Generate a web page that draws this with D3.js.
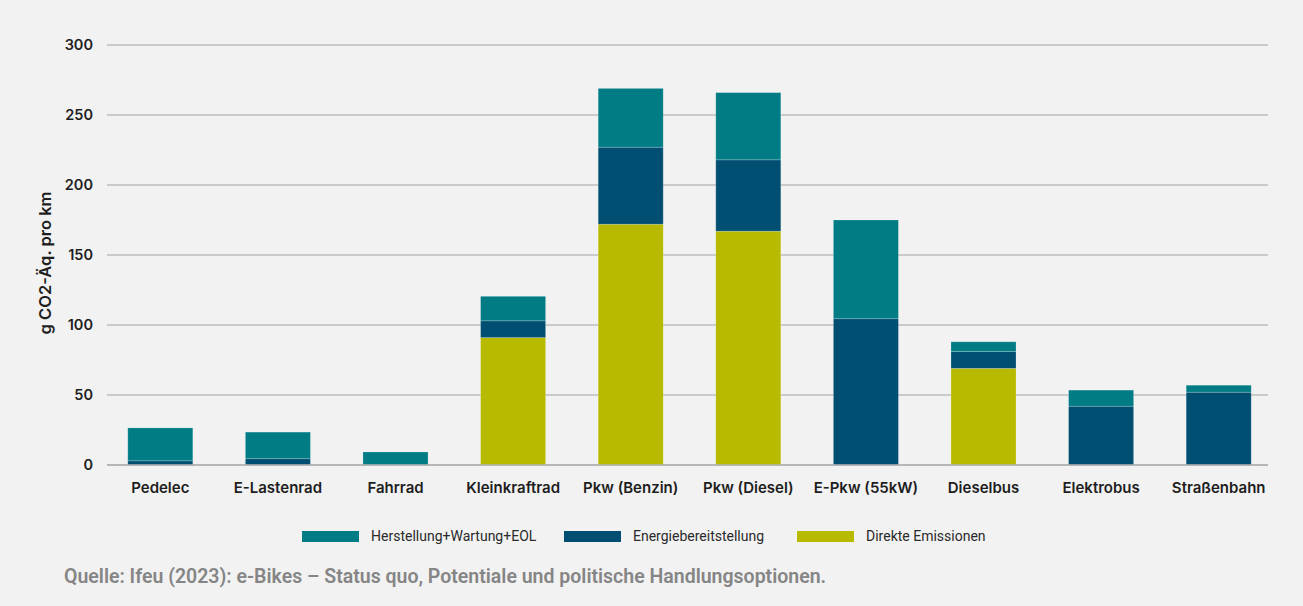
<!DOCTYPE html>
<html>
<head>
<meta charset="utf-8">
<script src="https://cdn.jsdelivr.net/npm/d3@7"></script>
<style>
  html, body { margin: 0; padding: 0; background: #f2f2f2; }
  svg { display: block; }
</style>
</head>
<body>
<svg id="chart" width="1303" height="606"></svg>
<script>
// Emissions per vehicle type, g CO2-eq per km
const categories = ["Pedelec", "E-Lastenrad", "Fahrrad", "Kleinkraftrad", "Pkw (Benzin)",
  "Pkw (Diesel)", "E-Pkw (55kW)", "Dieselbus", "Elektrobus", "Straßenbahn"];
const direkteEmissionen = [0, 0, 0, 91, 172, 167, 0, 69, 0, 0];
const energiebereitstellung = [3, 4.5, 0, 12, 55, 51, 104.5, 12, 42, 52];
const herstellungWartungEol = [23.5, 19, 9.3, 17.5, 42, 48, 70.5, 7, 11.5, 5];
const seriesNames = ["Direkte Emissionen", "Energiebereitstellung", "Herstellung+Wartung+EOL"];
const legendOrder = ["Herstellung+Wartung+EOL", "Energiebereitstellung", "Direkte Emissionen"];
const yTicks = [0, 50, 100, 150, 200, 250, 300];
const yTitle = "g CO2-Äq. pro km";
const sourceNote = "Quelle: Ifeu (2023): e-Bikes – Status quo, Potentiale und politische Handlungsoptionen.";

const colors = {
  "Herstellung+Wartung+EOL": "#017c85",
  "Energiebereitstellung": "#004f72",
  "Direkte Emissionen": "#b8ba00"
};

const rows = categories.map((c, i) => ({
  cat: c,
  "Direkte Emissionen": direkteEmissionen[i],
  "Energiebereitstellung": energiebereitstellung[i],
  "Herstellung+Wartung+EOL": herstellungWartungEol[i]
}));

const svg = d3.select("#chart");
const W = 1303, H = 606;
svg.append("rect").attr("width", W).attr("height", H).attr("fill", "#f2f2f2");

const font = "Inter, Roboto, 'Liberation Sans', sans-serif";
const narrow = "Roboto, 'Liberation Sans', sans-serif";
const gridLeft = 107, gridRight = 1268;

const x = d3.scaleBand().domain(categories).range([101.5, 1277.5]).paddingInner(0.447).paddingOuter(0.2235);
const y = d3.scaleLinear().domain([0, 300]).range([465, 45]);

// horizontal grid
svg.append("g").selectAll("line").data(yTicks).join("line")
  .attr("x1", gridLeft).attr("x2", gridRight)
  .attr("y1", d => y(d)).attr("y2", d => y(d))
  .attr("stroke", "#bdbdbd").attr("stroke-width", 1.3);

// y tick labels
const yAxis = d3.axisLeft(y).tickValues(yTicks).tickSize(0).tickPadding(0);
const gy = svg.append("g").attr("transform", "translate(93,0)").call(yAxis);
gy.select(".domain").remove();
gy.selectAll("text").attr("font-family", font).attr("font-size", 14.5)
  .attr("font-weight", 600).attr("fill", "#1e1e1e");

// y axis title
svg.append("text")
  .attr("transform", `translate(51,${263}) rotate(-90)`)
  .attr("text-anchor", "middle")
  .attr("font-family", font).attr("font-size", 16.5).attr("font-weight", 600).attr("fill", "#1e1e1e")
  .text(yTitle);

// stacked bars
const stack = d3.stack().keys(seriesNames)(rows);
svg.append("g").selectAll("g").data(stack).join("g")
  .attr("fill", s => colors[s.key])
  .selectAll("rect").data(s => s.filter(d => d[1] - d[0] > 0)).join("rect")
  .attr("x", d => x(d.data.cat))
  .attr("width", x.bandwidth())
  .attr("y", d => y(d[1]))
  .attr("height", d => y(d[0]) - y(d[1]))
  .attr("stroke", "rgba(255,255,255,0.25)").attr("stroke-width", 0.8);

// baseline
svg.append("line").attr("x1", gridLeft).attr("x2", gridRight)
  .attr("y1", y(0)).attr("y2", y(0)).attr("stroke", "#b0b0b0").attr("stroke-width", 1.5);

// category labels
const xAxis = d3.axisBottom(x).tickSize(0).tickPadding(0);
const gx = svg.append("g").attr("transform", "translate(0,482)").call(xAxis);
gx.select(".domain").remove();
gx.selectAll("text").attr("font-family", font).attr("font-size", 15)
  .attr("font-weight", 600).attr("fill", "#1e1e1e");

// legend
const legendX = [302, 564, 797];
const lg = svg.append("g").selectAll("g").data(legendOrder).join("g")
  .attr("transform", (d, i) => `translate(${legendX[i]},531)`);
lg.append("rect").attr("width", 57).attr("height", 11).attr("fill", d => colors[d]);
lg.append("text").attr("x", 69).attr("y", 10)
  .attr("font-family", narrow).attr("font-size", 14)
  .attr("fill", "#2a2a2a").text(d => d);

// source note
svg.append("text").attr("x", 64).attr("y", 583)
  .attr("font-family", narrow).attr("font-size", 19.5)
  .attr("font-weight", 600).attr("fill", "#858585").text(sourceNote);
</script>
</body>
</html>
